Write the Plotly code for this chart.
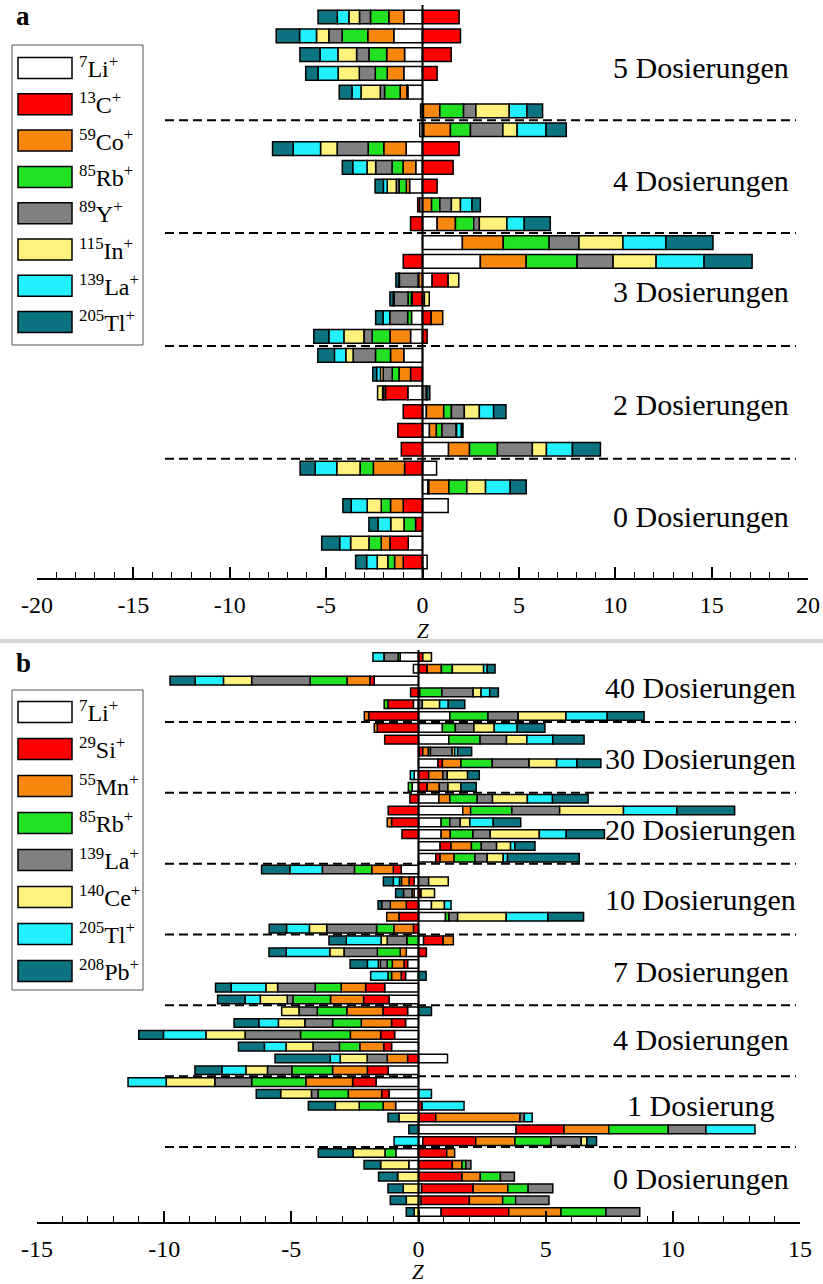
import plotly.graph_objects as go

W, H = 823, 1284

# ---------------- panel a: Z scores per isotope, 30 samples (top to bottom) ----------------
ions_a = ["<sup>7</sup>Li<sup>+</sup>", "<sup>13</sup>C<sup>+</sup>", "<sup>59</sup>Co<sup>+</sup>",
          "<sup>85</sup>Rb<sup>+</sup>", "<sup>89</sup>Y<sup>+</sup>", "<sup>115</sup>In<sup>+</sup>",
          "<sup>139</sup>La<sup>+</sup>", "<sup>205</sup>Tl<sup>+</sup>"]

li_a = [-0.97, -1.49, -0.93, -0.97, -0.76, -0.10, -0.14, -0.85, -0.35, -0.67, -0.15, 0.76,
        2.07, 3.00, 0.50, 0.10, -0.57, -0.62, -0.97, 0, -0.76, 0.20, 0.36, 1.35,
        0.73, 0.28, 1.33, 0, -0.74, 0.24]
c_a = [1.90, 1.97, 1.49, 0.76, -0.05, 0.05, 0.07, 1.90, 1.59, 0.76, -0.10, -0.62,
       0, -1.00, 0.83, -0.53, 0.45, 0.24, 0, -0.62, -1.16, -1.00, -1.28, -1.10,
       -0.93, 0.05, -1.00, -0.36, -0.95, -1.00]
co_a = [-0.78, -1.35, -0.93, -0.86, -0.35, 0.85, 1.38, -1.16, -0.66, -0.17, 0.47, 0.95,
        2.12, 2.38, -0.20, -0.05, 0.60, -1.07, -0.69, -0.60, -0.10, 0.90, 0.36, 1.09,
        -1.62, 1.04, -0.66, 0, -0.45, -0.45]
rb_a = [-0.95, -1.33, -0.92, -0.62, -0.81, 1.23, 1.04, -0.81, -0.57, -0.38, 0.43, 0.95,
        2.38, 2.64, -0.03, -0.17, -0.20, -0.92, -0.78, -0.35, -0.05, 0.40, 0.29, 1.45,
        -0.69, 0.93, -0.48, -0.60, -0.64, -0.35]
y_a = [-0.57, -0.69, -0.64, -0.83, -0.22, 0.64, 1.68, -1.61, -0.85, -0.14, 0.60, 0.29,
       1.55, 1.87, -0.97, -0.72, -0.93, -0.43, -1.16, -0.47, 0.20, 0.67, 0.74, 1.81,
       0, 0, 0, 0, 0, 0]
in_a = [-0.55, -0.64, -0.97, -1.10, -1.00, 1.73, 0.74, -0.86, -0.45, -0.47, 0.47, 1.43,
        2.28, 2.23, 0.55, 0.25, 0, -1.04, -0.38, -0.14, -0.26, 0.78, 0.02, 0.73,
        -1.21, 0.97, -0.73, -0.69, -0.95, -0.55]
la_a = [-0.60, -0.88, -0.93, -1.04, -0.47, 0.92, 1.50, -1.42, -0.74, -0.20, 0.60, 0.90,
        2.23, 2.49, -0.03, -0.05, -0.35, -0.78, -0.59, -0.20, 0.03, 0.74, 0.25, 1.35,
        -1.12, 1.28, -0.83, -0.66, -0.57, -0.55]
tl_a = [-1.00, -1.21, -1.04, -0.64, -0.66, 0.81, 1.05, -1.07, -0.54, -0.43, 0.43, 1.35,
        2.44, 2.49, -0.15, -0.17, -0.38, -0.78, -0.86, -0.20, 0.15, 0.64, 0.08, 1.45,
        -0.78, 0.83, -0.43, -0.47, -0.93, -0.57]

groups_a = ["5 Dosierungen", "4 Dosierungen", "3 Dosierungen", "2 Dosierungen", "0 Dosierungen"]

# ---------------- panel b: Z scores per isotope, 48 samples (top to bottom) ----------------
ions_b = ["<sup>7</sup>Li<sup>+</sup>", "<sup>29</sup>Si<sup>+</sup>", "<sup>55</sup>Mn<sup>+</sup>",
          "<sup>85</sup>Rb<sup>+</sup>", "<sup>139</sup>La<sup>+</sup>", "<sup>140</sup>Ce<sup>+</sup>",
          "<sup>205</sup>Tl<sup>+</sup>", "<sup>208</sup>Pb<sup>+</sup>"]

li_b = [-0.72, -0.20, -1.74, 0.05, -0.20, 1.23, 0.94, 1.19, 0.03, 0.77, -0.17, -0.25,
        0.80, 1.74, 0.89, 0.89, 0.85, 0.68, -0.68, -0.17, -0.17, 0.51, 1.06, 0,
        0.20, -0.48, -0.43, -0.51, -1.33, -1.16, -0.43, -0.51, -0.94, -1.06, 1.14, -1.19,
        -1.67, -1.16, -0.90, 0.03, 3.84, 0.17, -0.89, -0.38, 0, 0.12, 0.10, 0.89]
si_b = [0.17, 0.34, -0.17, -0.31, -1.00, -1.96, -1.62, -1.33, 0.14, 0.17, 0.40, 0.34,
        -0.34, -1.19, -1.06, -0.65, 0.43, 0.17, -0.31, -0.20, 0.10, -0.48, -0.77, -0.20,
        0.77, 0.31, -0.14, -0.17, -0.75, -1.00, -0.97, -0.55, -0.55, -0.31, -0.43, -0.82,
        -0.92, -0.29, 0.14, 0.65, 1.88, 2.08, 1.11, 1.33, 1.71, 2.03, 1.90, 2.66]
mn_b = [0, 0.56, -0.90, 0, 0, -0.17, -0.12, 0, 0.22, 0.73, 0.56, 0.48,
        0.43, 0.31, -0.17, 0.36, 0.80, 0.55, -0.85, -0.30, -0.08, -0.63, -0.48, -0.77,
        0.40, -0.24, -0.46, -0.38, -0.96, -1.30, -1.42, -1.19, -1.19, -0.94, -0.80, -1.37,
        -1.84, -1.31, -0.49, 3.31, 1.76, 1.54, 0.31, 0.38, 0.72, 1.36, 1.31, 2.05]
rb_b = [-0.08, 0.43, -1.45, 0.87, -0.15, 1.50, 0.51, 1.23, 0.08, 1.23, 0, -0.15,
        1.08, 1.62, 0.34, 0.89, 0.39, 0.82, -0.68, -0.08, 0, 0, 0.14, -0.68,
        -0.46, -0.90, -0.20, -0.14, -1.02, -1.48, -1.16, -1.13, -1.96, -0.80, 0, -1.60,
        -2.13, -1.19, -0.94, 0, 2.34, 1.42, -0.43, 0.15, 0.79, 0.80, 0.51, 1.77]
la_b = [-0.56, 0, -2.30, 1.23, 0.15, 1.19, 0.73, 1.04, 0.85, 1.45, 0.17, 0.34,
        0.60, 1.88, 0.41, 0.68, 0.60, 0.48, -1.26, 0.40, -0.34, -0.34, 0.34, -1.96,
        -0.77, -1.31, -0.27, 0, -1.48, -0.22, -0.72, -1.09, -2.18, -1.04, -0.79, -0.96,
        -1.45, -0.26, 0, 0.17, 1.48, 1.19, 0, 0.20, 0.55, 0.97, 1.31, 1.33]
ce_b = [0.34, 1.23, -1.11, 0.31, 0.68, 1.88, 0.80, 0.80, 0.10, 1.08, 0.80, 0.51,
        1.37, 2.51, 0.38, 1.93, 0.55, 0.63, 0, 0.77, 0.53, 0.51, 1.91, -0.68,
        -0.24, -0.56, -0.08, 0, -0.46, -1.06, -0.68, -1.04, -1.54, -1.06, -1.06, -0.85,
        -1.91, -1.21, -0.94, -0.77, 0, 0.22, -1.25, -1.11, -0.82, -0.60, -0.48, -0.17]
tl_b = [-0.43, 0.14, -1.11, 0.34, 0.34, 1.62, 0.90, 1.02, 0.12, 0.80, -0.15, 0,
        0.99, 2.10, 0.92, 1.06, 0.17, 0.17, -1.28, -0.24, 0, 0.26, 1.64, -0.90,
        -1.37, -1.71, -0.43, -0.68, -1.37, -0.60, 0, -0.77, -1.67, -0.85, -0.39, -0.94,
        -1.50, 0.51, 1.65, 0.31, 1.93, -0.96, 0, 0, 0, 0, 0, 0]
pb_b = [0, 0.31, -0.99, 0.34, 0.65, 1.45, 1.09, 1.23, 0.55, 0.94, 0.46, 0.60,
        1.40, 2.27, 1.08, 1.50, 0.79, 2.82, -1.11, -0.39, -0.31, -0.14, 1.40, -0.68,
        -0.68, -0.68, -0.68, 0.30, -0.61, -1.08, 0.51, -0.97, -0.97, -1.02, -2.17, -1.06,
        0, -0.96, -1.06, -0.43, -0.38, 0.38, -1.37, -0.65, -0.75, -0.60, -0.63, -0.31]

groups_b = ["40 Dosierungen", "30 Dosierungen", "20 Dosierungen", "10 Dosierungen",
            "7 Dosierungen", "4 Dosierungen", "1 Dosierung", "0 Dosierungen"]

colors = ["#ffffff", "#ff0000", "#f7870f", "#22e022", "#808080", "#fff27c", "#22f0ff", "#0b7480"]

SAMPLES_PER_GROUP = 6
SERIF = "Liberation Serif, Times New Roman, serif"


def px_x(p):
    return p / W


def px_y(p):
    return 1 - p / H


fig = go.Figure()


def add_panel(series, xref, yref):
    n = len(series[0])
    rows = list(range(n))
    for vals, col in zip(series, colors):
        fig.add_trace(go.Bar(
            x=[v if v != 0 else None for v in vals], y=rows, orientation="h",
            marker=dict(color=col, line=dict(color="black", width=1.5)),
            xaxis=xref, yaxis=yref, showlegend=False, hoverinfo="x"))
    return n


n_a = add_panel([li_a, c_a, co_a, rb_a, y_a, in_a, la_a, tl_a], "x", "y")
n_b = add_panel([li_b, si_b, mn_b, rb_b, la_b, ce_b, tl_b, pb_b], "x2", "y2")

shapes = []
annotations = []


def axis_common(lo, hi):
    vals = list(range(lo, hi + 1, 5))
    return dict(range=[lo, hi], tickvals=vals, ticktext=[str(v) for v in vals],
                ticks="inside", ticklen=11, tickwidth=1.5, tickcolor="black",
                minor=dict(dtick=1, ticks="inside", ticklen=6, tickwidth=1.2, tickcolor="black"),
                showline=True, linecolor="black", linewidth=1.5, showgrid=False, zeroline=False,
                tickfont=dict(family=SERIF, size=24, color="black"), ticklabelstandoff=4,
                automargin=False, fixedrange=True)


# panel geometry in pixels
a_top, a_bot, a_row0, a_rowN = 5, 578, 17, 562
b_top, b_bot, b_row0, b_rowN = 650, 1222, 657, 1212
sp_a = (a_rowN - a_row0) / (n_a - 1)
sp_b = (b_rowN - b_row0) / (n_b - 1)

fig.update_layout(
    width=W, height=H, margin=dict(l=0, r=0, t=0, b=0, autoexpand=False),
    paper_bgcolor="white", plot_bgcolor="rgba(0,0,0,0)",
    barmode="relative", bargap=0.27,
    xaxis=dict(domain=[px_x(37), px_x(808)], anchor="y", **axis_common(-20, 20)),
    yaxis=dict(domain=[px_y(a_bot), px_y(a_top)], visible=False, fixedrange=True,
               range=[(n_a - 1) + (a_bot - a_rowN) / sp_a, -(a_row0 - a_top) / sp_a]),
    xaxis2=dict(domain=[px_x(37), px_x(800)], anchor="y2", **axis_common(-15, 15)),
    yaxis2=dict(domain=[px_y(b_bot), px_y(b_top)], visible=False, fixedrange=True,
                range=[(n_b - 1) + (b_bot - b_rowN) / sp_b, -(b_row0 - b_top) / sp_b]),
)

# zero lines on top of the bars
for xr, yr in (("x", "y domain"), ("x2", "y2 domain")):
    shapes.append(dict(type="line", xref=xr, yref=yr, x0=0, x1=0, y0=0, y1=1,
                       line=dict(color="black", width=2), layer="above"))

# dashed separators between dosing groups and group captions
label_off_a = [2.7, 2.7, 2.6, 2.6, 2.6]
label_off_b = [2.6, 2.6, 2.6, 2.5, 2.6, 2.4, 2.0, 2.2]
for yr, groups, offs, xc in (("y", groups_a, label_off_a, 14.45), ("y2", groups_b, label_off_b, 11.1)):
    xr = "x" if yr == "y" else "x2"
    for g, (name, off) in enumerate(zip(groups, offs)):
        if g > 0:
            yy = g * SAMPLES_PER_GROUP - 0.5
            shapes.append(dict(type="line", xref="paper", yref=yr, x0=px_x(165), x1=px_x(796),
                               y0=yy, y1=yy, line=dict(color="black", width=2, dash="9px,5px"),
                               layer="above"))
        annotations.append(dict(text=name, xref=xr, yref=yr, x=xc, y=g * SAMPLES_PER_GROUP + off,
                                showarrow=False, xanchor="center", yanchor="middle",
                                font=dict(family=SERIF, size=30, color="black")))

# axis titles and panel letters
for txt, xp, yp, sz, xa in (("<i>Z</i>", 423, 631, 21, "center"), ("<i>Z</i>", 418, 1272, 21, "center"),
                            ("<b>a</b>", 14, 16, 27, "left"), ("<b>b</b>", 14, 663, 27, "left")):
    annotations.append(dict(text=txt, xref="paper", yref="paper", x=px_x(xp), y=px_y(yp),
                            xanchor=xa, yanchor="middle", showarrow=False,
                            font=dict(family=SERIF, size=sz, color="black")))

# light grey divider between the panels
shapes.append(dict(type="rect", xref="paper", yref="paper", x0=0, x1=1, y0=px_y(643), y1=px_y(639),
                   fillcolor="#d6d6d6", line=dict(width=0), layer="below"))


# legend boxes drawn with swatches
def legend(labels, box_top, box_bot, first, step):
    shapes.append(dict(type="rect", xref="paper", yref="paper", x0=px_x(12), x1=px_x(143),
                       y0=px_y(box_bot), y1=px_y(box_top), line=dict(color="#555555", width=1),
                       fillcolor="white", layer="above"))
    for i, (lab, col) in enumerate(zip(labels, colors)):
        yc = first + i * step
        shapes.append(dict(type="rect", xref="paper", yref="paper", x0=px_x(18), x1=px_x(72),
                           y0=px_y(yc + 10.5), y1=px_y(yc - 10.5), fillcolor=col,
                           line=dict(color="black", width=1.5), layer="above"))
        annotations.append(dict(text=lab, xref="paper", yref="paper", x=px_x(77), y=px_y(yc - 1),
                                xanchor="left", yanchor="middle", showarrow=False,
                                font=dict(family=SERIF, size=24, color="black")))


legend(ions_a, 45, 345, 68, 36.3)
legend(ions_b, 690, 990, 712, 37)

fig.update_layout(shapes=shapes, annotations=annotations)
fig.write_html("out.html")
